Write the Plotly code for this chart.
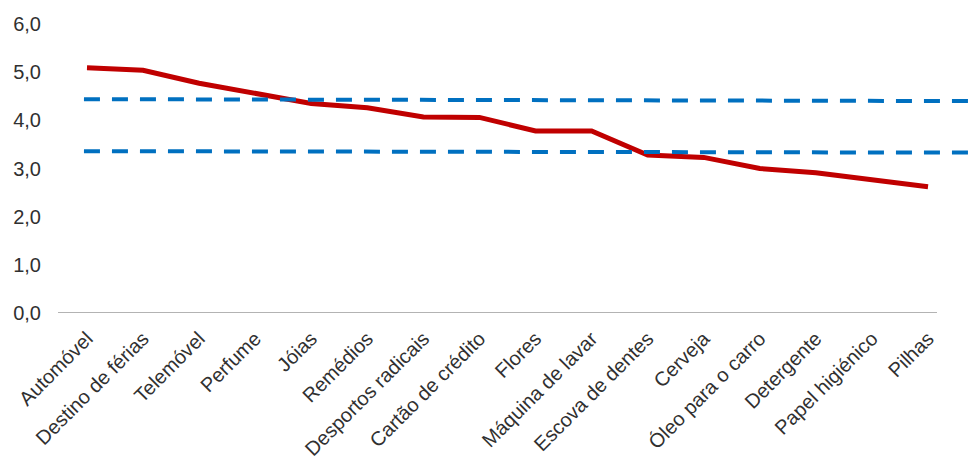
import plotly.graph_objects as go

# Categories and their average scores
categories = [
    "Automóvel", "Destino de férias", "Telemóvel", "Perfume", "Jóias",
    "Remédios", "Desportos radicais", "Cartão de crédito", "Flores",
    "Máquina de lavar", "Escova de dentes", "Cerveja", "Óleo para o carro",
    "Detergente", "Papel higiénico", "Pilhas",
]
scores = [5.09, 5.04, 4.77, 4.56, 4.35, 4.26, 4.07, 4.06, 3.78, 3.78,
          3.28, 3.23, 3.00, 2.91, 2.76, 2.62]

# Reference levels (start, end) drawn as dashed horizontal lines
upper_level = [4.44, 4.40]
lower_level = [3.36, 3.33]

y_ticks = [0, 1, 2, 3, 4, 5, 6]
y_tick_text = ["0,0", "1,0", "2,0", "3,0", "4,0", "5,0", "6,0"]

RED = "#C00000"
BLUE = "#0070C0"
TEXT = "#303030"
FONT = "Liberation Sans, Arial, sans-serif"

x_idx = list(range(len(categories)))

fig = go.Figure()
fig.add_trace(go.Scatter(
    x=x_idx, y=scores, mode="lines",
    line=dict(color=RED, width=5),
    hoverinfo="skip", showlegend=False,
))

x_left, x_right = -0.517, 15.713
axis_end = 15.16
ref_start = -0.054

for lvl in (upper_level, lower_level):
    fig.add_shape(type="line", xref="x", yref="y",
                  x0=ref_start, x1=x_right, y0=lvl[0], y1=lvl[1],
                  line=dict(color=BLUE, width=4, dash="16px,12px"))

# Category axis baseline
fig.add_shape(type="line", xref="x", yref="y",
              x0=x_left, x1=axis_end, y0=0, y1=0,
              line=dict(color="#9a9a9a", width=1.5))

fig.update_layout(
    width=968, height=465,
    margin=dict(l=58, r=0, t=24, b=152),
    paper_bgcolor="white", plot_bgcolor="white",
    font=dict(family=FONT, color=TEXT, size=20),
    xaxis=dict(
        range=[x_left, x_right],
        tickmode="array", tickvals=x_idx, ticktext=categories,
        tickangle=-45, showgrid=False, zeroline=False, showline=False,
        ticks="", ticklabelstandoff=9,
        tickfont=dict(size=20, family=FONT, color=TEXT),
    ),
    yaxis=dict(
        range=[0, 6],
        tickmode="array", tickvals=y_ticks, ticktext=y_tick_text,
        showgrid=False, zeroline=False, showline=False, ticks="",
        ticklabelstandoff=16,
        tickfont=dict(size=20, family=FONT, color=TEXT),
    ),
)

fig.write_html("out.html")
